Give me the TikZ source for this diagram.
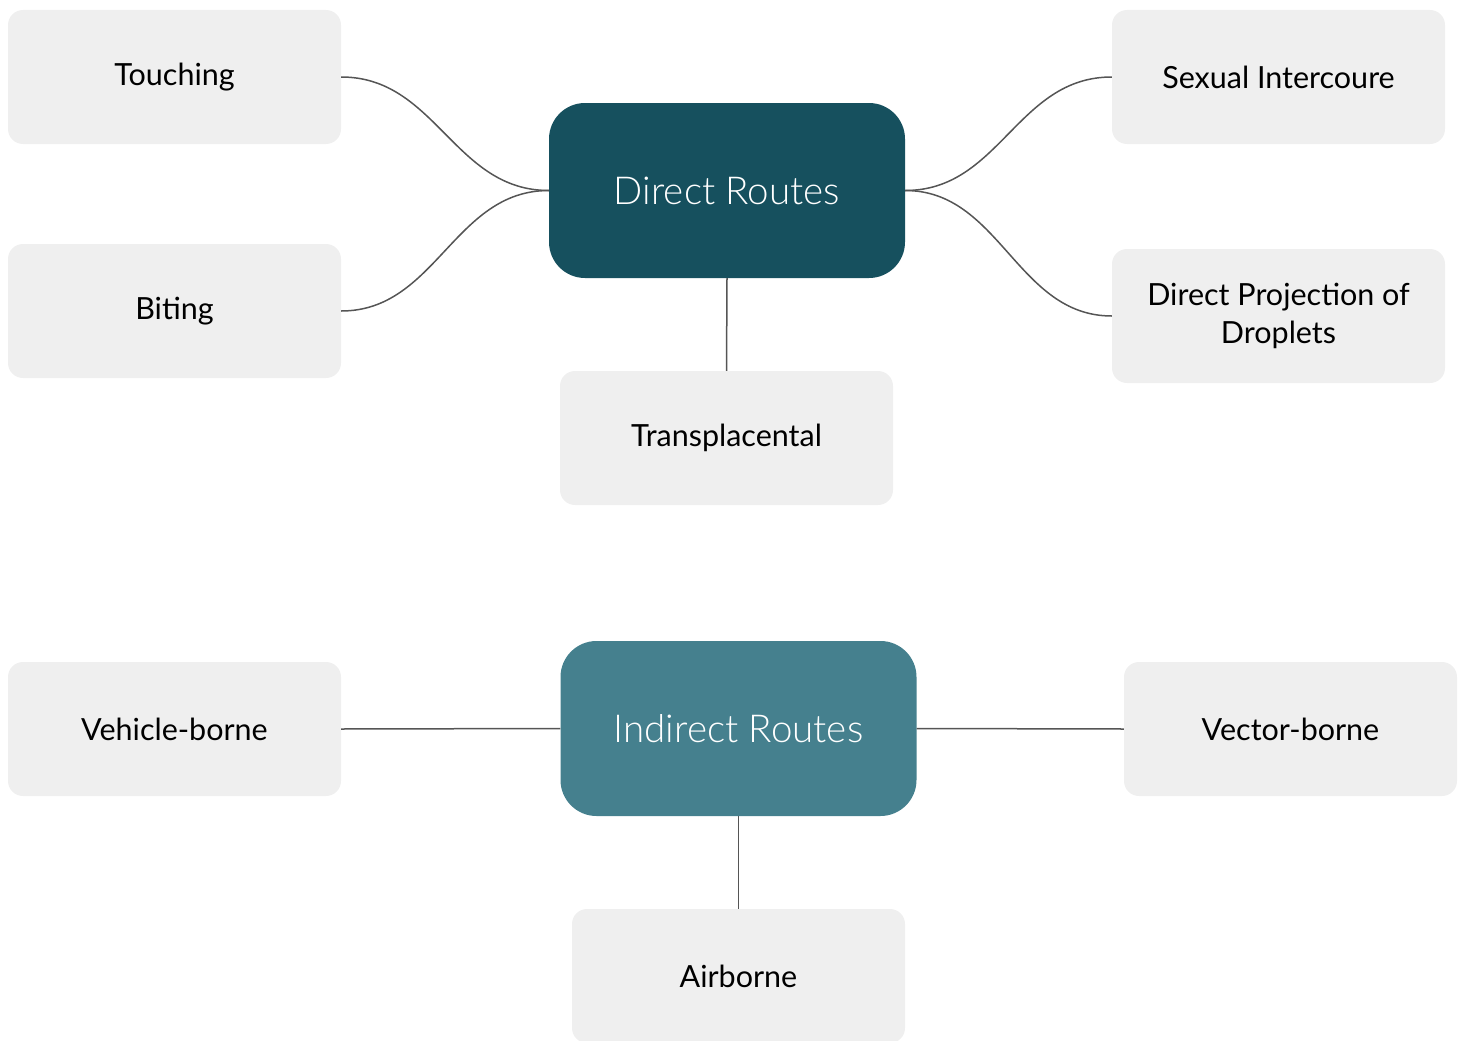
\documentclass[tikz,border=0pt]{standalone}
\usepackage{fontspec}
\setmainfont{Lato}
\newfontfamily\hubfont{Lato Light}
\begin{document}
\begin{tikzpicture}[x=1pt,y=-1pt,
  leaf/.style={fill=leafgray, rounded corners=15pt, minimum width=333pt, minimum height=134pt, inner sep=0pt, align=center, font=\fontsize{30.5}{38}\selectfont, text=black},
  hub/.style={rounded corners=36pt, minimum width=356pt, minimum height=175pt, inner sep=0pt, font=\hubfont\fontsize{38.5}{44}\selectfont, text=white},
  link/.style={draw=linegray, line width=1.5pt}]
\definecolor{leafgray}{HTML}{EFEFEF}
\definecolor{linegray}{HTML}{555555}
\definecolor{darkteal}{HTML}{16505E}
\definecolor{midteal}{HTML}{45808E}
\useasboundingbox (0,0) rectangle (1462,1041);
\node[leaf] (touch) at (174.5,77) {Touching};
\node[leaf] (bite) at (174.5,311) {Biting};
\node[hub, fill=darkteal] (direct) at (727,190.5) {Direct Routes};
\node[leaf] (trans) at (726.5,438) {Transplacental};
\node[leaf] (sex) at (1278.5,77) {Sexual Intercoure};
\node[leaf] (drop) at (1278.5,316) {Direct Projection of\\Droplets};
\node[leaf] (vehicle) at (174.5,729) {Vehicle-borne};
\node[hub, fill=midteal] (indirect) at (738.5,728.5) {Indirect Routes};
\node[leaf] (vector) at (1290.5,729) {Vector-borne};
\node[leaf] (air) at (738.5,976) {Airborne};
\draw[link] (touch.east) .. controls +(95,0) and +(-95,0) .. (direct.west);
\draw[link] (bite.east) .. controls +(95,0) and +(-95,0) .. (direct.west);
\draw[link] (direct.east) .. controls +(95,0) and +(-95,0) .. (sex.west);
\draw[link] (direct.east) .. controls +(95,0) and +(-95,0) .. (drop.west);
\draw[link] (direct.south) -- (trans.north);
\draw[link] (vehicle.east) -- (indirect.west);
\draw[link] (indirect.east) -- (vector.west);
\draw[link] (indirect.south) -- (air.north);
\end{tikzpicture}
\end{document}
